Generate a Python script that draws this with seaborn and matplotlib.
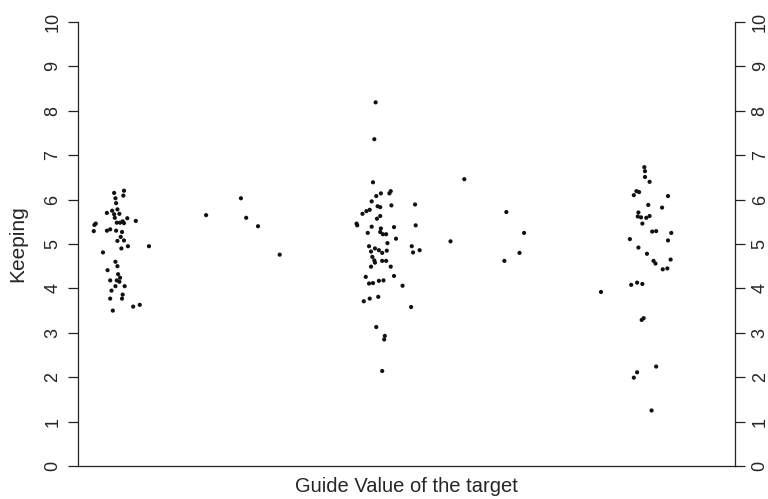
import matplotlib
matplotlib.use("Agg")
import matplotlib.pyplot as plt
import seaborn as sns
import pandas as pd

# Left cluster (x in axis units 0-100, y = Keeping)
x_left = [5.5, 7.0, 6.9, 5.7, 5.8, 6.0, 4.4, 5.2, 5.5, 6.3, 5.6, 7.5, 8.8, 6.8, 6.4, 5.9,
          7.0, 2.7, 2.5, 2.4, 4.4, 4.9, 5.8, 6.7, 6.5, 6.0, 7.0, 7.6, 6.6, 10.8, 3.8, 5.7,
          6.0, 4.5, 6.1, 6.4, 4.9, 5.9, 6.3, 7.1, 5.7, 5.1, 6.8, 6.7, 4.9, 5.3, 8.4, 9.4,
          19.5, 24.8, 25.6, 27.4, 30.7]
y_left = [6.15, 6.20, 6.09, 6.03, 5.92, 5.78, 5.70, 5.75, 5.67, 5.68, 5.59, 5.58, 5.52, 5.51, 5.48, 5.48,
          5.47, 5.46, 5.43, 5.29, 5.30, 5.33, 5.30, 5.27, 5.16, 5.07, 5.08, 4.95, 4.90, 4.95, 4.81, 4.60,
          4.50, 4.41, 4.32, 4.24, 4.18, 4.18, 4.15, 4.05, 4.05, 3.95, 3.86, 3.77, 3.77, 3.50, 3.59, 3.63,
          5.65, 6.03, 5.59, 5.40, 4.76]

x_mid = [45.3, 45.1, 44.9, 47.6, 47.4, 46.1, 45.4, 44.7, 47.7, 45.6, 46.0, 51.3, 44.4, 43.9, 43.3,
         46.0, 45.5, 42.4, 42.5, 44.7, 48.1, 51.4, 46.1, 46.0, 44.1, 46.4, 46.9, 48.4, 47.1, 44.3,
         50.8, 45.2, 45.8, 47.0, 44.6, 46.3, 51.0, 52.0, 44.8, 45.1, 45.2, 46.3, 46.9, 44.6, 47.6,
         43.8, 48.1, 44.3, 44.9, 45.8, 46.5, 49.4, 43.5, 44.4, 45.7, 50.7, 45.4, 46.7, 46.6, 46.3,
         58.8, 56.7, 65.2, 67.9, 67.2, 64.9]
y_mid = [8.19, 7.36, 6.39, 6.19, 6.14, 6.14, 6.08, 5.96, 5.87, 5.85, 5.83, 5.89, 5.77, 5.74, 5.68,
         5.63, 5.57, 5.46, 5.42, 5.39, 5.38, 5.42, 5.35, 5.27, 5.25, 5.22, 5.22, 5.12, 5.02, 4.95,
         4.95, 4.90, 4.86, 4.85, 4.83, 4.80, 4.81, 4.86, 4.71, 4.63, 4.58, 4.62, 4.62, 4.49, 4.49,
         4.26, 4.28, 4.11, 4.12, 4.17, 4.18, 4.06, 3.71, 3.77, 3.81, 3.58, 3.13, 2.93, 2.85, 2.14,
         6.46, 5.06, 5.72, 5.25, 4.80, 4.62]

x_right = [86.2, 86.3, 86.3, 87.0, 85.0, 85.4, 84.6, 89.8, 86.8, 88.9, 85.3, 85.2, 85.7, 87.0,
           86.5, 85.9, 87.4, 88.0, 90.3, 84.0, 89.8, 85.3, 86.6, 87.6, 87.9, 90.2, 89.0, 89.7,
           84.2, 85.1, 85.9, 79.6, 86.1, 85.8, 88.0, 85.1, 84.6, 87.3]
y_right = [6.73, 6.64, 6.51, 6.40, 6.19, 6.17, 6.10, 6.08, 5.88, 5.82, 5.71, 5.62, 5.60, 5.63,
           5.59, 5.46, 5.28, 5.29, 5.25, 5.11, 5.08, 4.92, 4.78, 4.62, 4.56, 4.65, 4.43, 4.45,
           4.08, 4.13, 4.10, 3.92, 3.33, 3.29, 2.24, 2.11, 1.99, 1.25]

y_ticks = list(range(0, 11))
x_label = "Guide Value of the target"
y_label = "Keeping"

df = pd.DataFrame({"x": x_left + x_mid + x_right, "y": y_left + y_mid + y_right})

sns.set_style("white")
plt.rcParams["font.family"] = ["Liberation Sans", "DejaVu Sans"]

fig = plt.figure(figsize=(7.68, 4.99), dpi=100)
ax = fig.add_axes([78 / 768, 1 - 466 / 499, (735 - 78) / 768, (466 - 22) / 499])
sns.scatterplot(data=df, x="x", y="y", ax=ax, s=9, color="#111111", edgecolor="none", linewidth=0)

ax.set_xlim(0, 100)
ax.set_ylim(0, 10)
ax.set_yticks(y_ticks)
ax.set_yticklabels([str(t) for t in y_ticks], rotation=90, va="center", fontsize=13)
ax.set_xticks([])
ax.tick_params(axis="y", which="both", left=True, right=True, labelleft=True, labelright=True,
               direction="out", length=7, width=0.9, color="#222222", pad=5, labelsize=13)
for side in ["left", "right", "bottom"]:
    ax.spines[side].set_visible(True)
    ax.spines[side].set_color("#222222")
    ax.spines[side].set_linewidth(0.9)
ax.spines["top"].set_visible(False)
ax.set_xlabel(x_label, fontsize=14.5, labelpad=8)
ax.set_ylabel(y_label, fontsize=15, labelpad=12)
fig.savefig("out.png", dpi=100)
